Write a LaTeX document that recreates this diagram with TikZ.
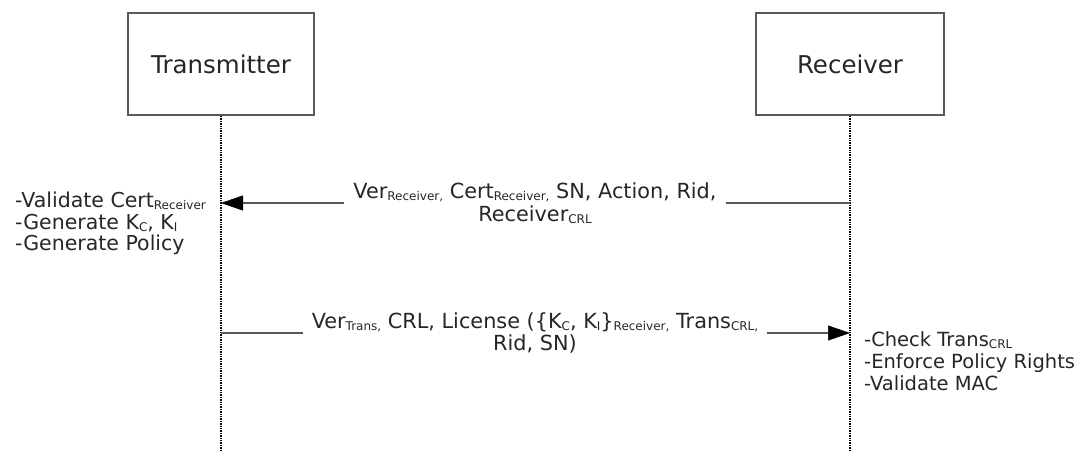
\documentclass[tikz,border=0pt]{standalone}
\usepackage{fontspec}
\setmainfont{DejaVu Sans}
\usetikzlibrary{arrows.meta,positioning}
\newcommand{\sub}[1]{\raisebox{-2pt}{\fontsize{12}{12}\selectfont #1}}

\begin{document}
\begin{tikzpicture}[x=1pt,y=-1pt,
    every node/.style={inner sep=0pt, text=black!85},
    party/.style={draw=black!65, line width=1.8pt, minimum width=186pt, minimum height=102pt, font=\fontsize{24.5}{28}\selectfont},
    life/.style={densely dotted, line width=1.4pt},
    msg/.style={draw=black!65, line width=2.4pt},
    msgtext/.style={align=center, inner xsep=9pt, font=\fontsize{20.8}{22.5}\selectfont},
    note/.style={align=left, anchor=north west, font=\fontsize{20.5}{21.5}\selectfont},
    tip/.style={-{Triangle[length=22pt,width=15pt,color=black,line width=0.5pt]}}
]
    \useasboundingbox (0,0) rectangle (1081,451);
    % parties and lifelines
    \node[party] (tx) at (221,64) {Transmitter};
    \node[party, minimum width=188pt] (rx) at (850,64) {Receiver};
    \coordinate (txend) at (221,451);
    \coordinate (rxend) at (850,451);
    \draw[life] (tx) -- (txend);
    \draw[life] (rx) -- (rxend);
    % request from receiver
    \coordinate (rx1) at (850,203);
    \coordinate (tx1) at (221,203);
    \node[msgtext] (req) at (535,203) {Ver\sub{Receiver,} Cert\sub{Receiver,} SN, Action, Rid,\\Receiver\sub{CRL}};
    \draw[msg] (rx1) -- (req.east |- rx1);
    \draw[msg,tip] (req.west |- tx1) -- (tx1);
    \node[note] (txnote) at (15,192) {-Validate Cert\sub{Receiver}\\-Generate K\sub{C}, K\sub{I}\\-Generate Policy};
    % license from transmitter
    \coordinate (tx2) at (221,333);
    \coordinate (rx2) at (850,333);
    \node[msgtext] (lic) at (535,333) {Ver\sub{Trans,} CRL, License (\{K\sub{C}, K\sub{I}\}\sub{Receiver,} Trans\sub{CRL,}\\Rid, SN)};
    \draw[msg] (tx2) -- (lic.west |- tx2);
    \draw[msg,tip] (lic.east |- rx2) -- (rx2);
    \node[note, font=\fontsize{19.5}{22}\selectfont] (rxnote) at (864,331) {-Check Trans\sub{CRL}\\-Enforce Policy Rights\\-Validate MAC};
\end{tikzpicture}
\end{document}
